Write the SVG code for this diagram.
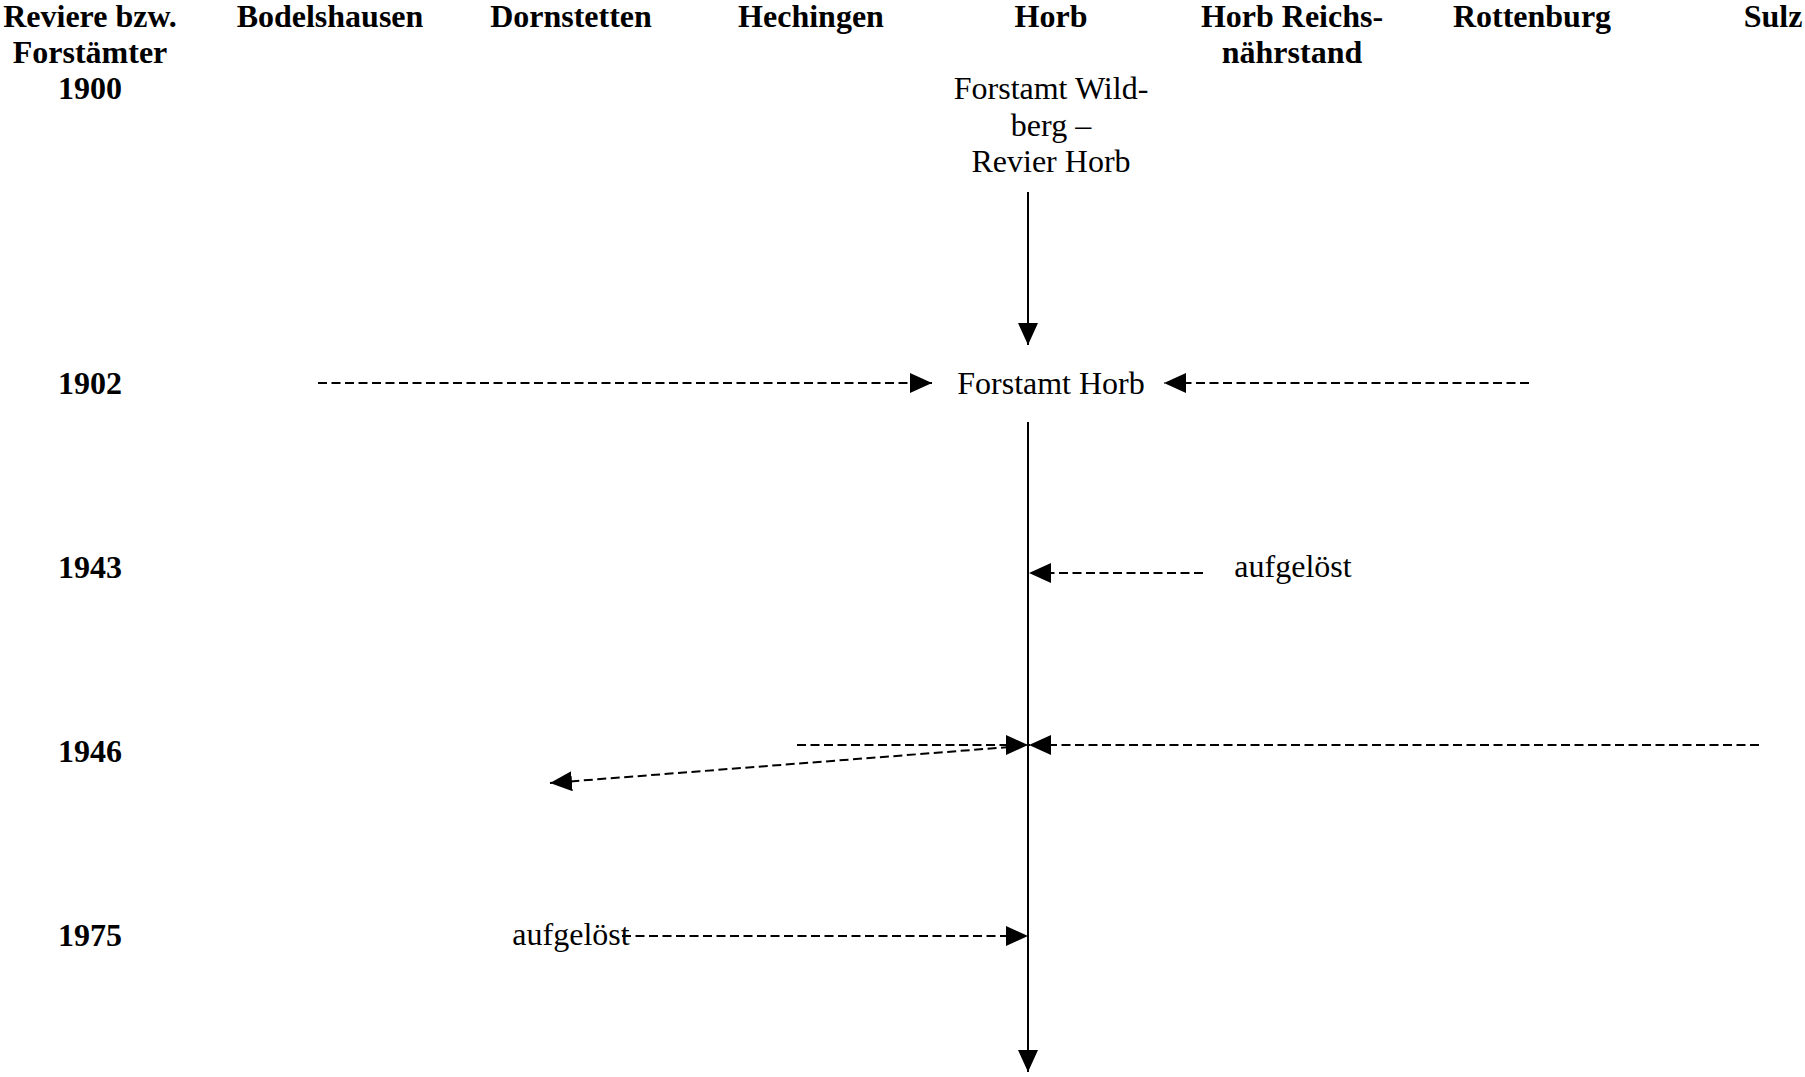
<svg xmlns="http://www.w3.org/2000/svg" width="1805" height="1077" viewBox="0 0 1805 1077">
<style>
text{font-family:"Liberation Serif","Times New Roman",serif;font-size:32px;fill:#000;text-anchor:middle}
.b{font-weight:bold}
.s{stroke:#000;stroke-width:2;fill:none}
.d{stroke:#000;stroke-width:2;fill:none;stroke-dasharray:9 4.5}
</style>
<defs>
<marker id="ah" markerUnits="userSpaceOnUse" markerWidth="22" markerHeight="20" refX="22" refY="10" orient="auto" viewBox="0 0 22 20">
<path d="M0,0 L22,10 L0,20 z" fill="#000"/>
</marker>
</defs>
<rect width="1805" height="1077" fill="#fff"/>
<g id="headers">
<text class="b" x="90" y="27">Reviere bzw.</text>
<text class="b" x="90" y="63">Forstämter</text>
<text class="b" x="330" y="27">Bodelshausen</text>
<text class="b" x="571" y="27">Dornstetten</text>
<text class="b" x="811" y="27">Hechingen</text>
<text class="b" x="1051" y="27">Horb</text>
<text class="b" x="1292" y="27">Horb Reichs-</text>
<text class="b" x="1292" y="63">nährstand</text>
<text class="b" x="1532" y="27">Rottenburg</text>
<text class="b" x="1773" y="27">Sulz</text>
</g>
<g id="years">
<text class="b" x="90" y="99">1900</text>
<text class="b" x="90" y="394">1902</text>
<text class="b" x="90" y="578">1943</text>
<text class="b" x="90" y="762">1946</text>
<text class="b" x="90" y="946">1975</text>
</g>
<g id="node-wildberg">
<text x="1051" y="99">Forstamt Wild-</text>
<text x="1051" y="136">berg –</text>
<text x="1051" y="172">Revier Horb</text>
</g>
<g id="node-forstamt-horb">
<text x="1051" y="394">Forstamt Horb</text>
</g>
<g id="node-aufgeloest-1943">
<text x="1293" y="577">aufgelöst</text>
</g>
<g id="node-aufgeloest-1975">
<text x="571" y="945">aufgelöst</text>
</g>
<g id="connectors">
<line class="s" x1="1028" y1="192" x2="1028" y2="345" marker-end="url(#ah)"/>
<line class="s" x1="1028" y1="422" x2="1028" y2="1072" marker-end="url(#ah)"/>
<line class="d" x1="318" y1="383" x2="932" y2="383" marker-end="url(#ah)"/>
<line class="d" x1="1529" y1="383" x2="1164" y2="383" marker-end="url(#ah)"/>
<line class="d" x1="1203" y1="573" x2="1029" y2="573" marker-end="url(#ah)"/>
<line class="d" x1="797" y1="745" x2="1028" y2="745" marker-end="url(#ah)"/>
<line class="d" x1="1759" y1="745" x2="1029" y2="745" marker-end="url(#ah)"/>
<line class="d" x1="1010" y1="747" x2="550" y2="783" marker-end="url(#ah)"/>
<line class="d" x1="622" y1="936" x2="1028" y2="936" marker-end="url(#ah)"/>
</g>
</svg>
